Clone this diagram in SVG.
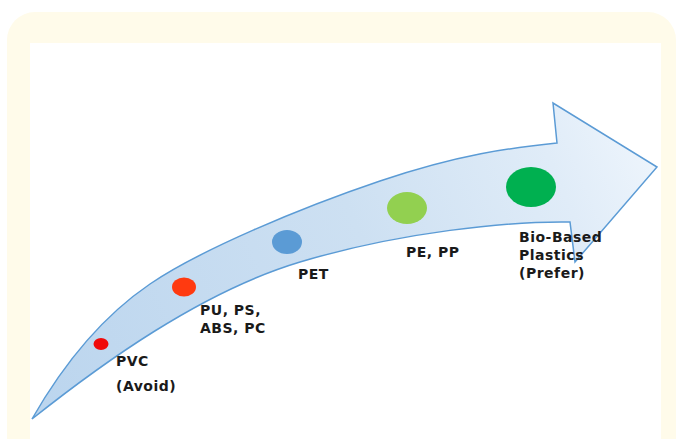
<svg xmlns="http://www.w3.org/2000/svg" width="677" height="439" viewBox="0 0 677 439">
  <defs>
    <linearGradient id="arrowFill" x1="32" y1="419" x2="657" y2="150" gradientUnits="userSpaceOnUse">
      <stop offset="0" stop-color="#BBD5EE"/>
      <stop offset="0.55" stop-color="#CDE0F2"/>
      <stop offset="0.85" stop-color="#E0ECF8"/>
      <stop offset="1" stop-color="#EEF5FC"/>
    </linearGradient>
    <style>
      .frame { fill: #FFFBEA; }
      .panel { fill: #FFFFFF; }
      .arrow { fill: url(#arrowFill); stroke: #5B9BD5; stroke-width: 1.5; stroke-linejoin: miter; }
      .label { font-family: "DejaVu Sans", "Liberation Sans", sans-serif; font-weight: 700; font-size: 14px; letter-spacing: 0.5px; fill: #1A1A1A; }
    </style>
  </defs>

  <!-- cream frame with white panel -->
  <rect class="frame" x="7" y="12" width="669" height="460" rx="28" ry="28"/>
  <rect class="panel" x="30" y="43" width="631" height="420"/>

  <!-- curved progression arrow -->
  <g id="connectors">
    <path id="arrow" class="arrow"
          d="M32,419 C60,370 100,318 150,284 S300,208 380,181 S510,148 557,143
             L553,103 L657,167 L575,262 L570,222
             C510,221 400,232 300,262 S100,365 32,419 Z"/>
  </g>

  <!-- plastics along the arrow -->
  <g id="pvc">
    <ellipse cx="101" cy="344" rx="7.5" ry="6" fill="#F00A0A"/>
    <text class="label" x="116" y="366">PVC</text>
    <text class="label" x="116" y="391">(Avoid)</text>
  </g>

  <g id="pu-ps-abs-pc">
    <ellipse cx="184" cy="287" rx="12" ry="9.5" fill="#FF3A10"/>
    <text class="label" x="200" y="315">PU, PS,</text>
    <text class="label" x="200" y="333">ABS, PC</text>
  </g>

  <g id="pet">
    <ellipse cx="287" cy="242" rx="15" ry="12" fill="#5B9BD5"/>
    <text class="label" x="298" y="279">PET</text>
  </g>

  <g id="pe-pp">
    <ellipse cx="407" cy="208" rx="20" ry="16" fill="#92D050"/>
    <text class="label" x="406" y="257">PE, PP</text>
  </g>

  <g id="bio-based">
    <ellipse cx="531" cy="187" rx="25" ry="20" fill="#00B050"/>
    <text class="label" x="519" y="242">Bio-Based</text>
    <text class="label" x="519" y="260">Plastics</text>
    <text class="label" x="519" y="278">(Prefer)</text>
  </g>
</svg>
